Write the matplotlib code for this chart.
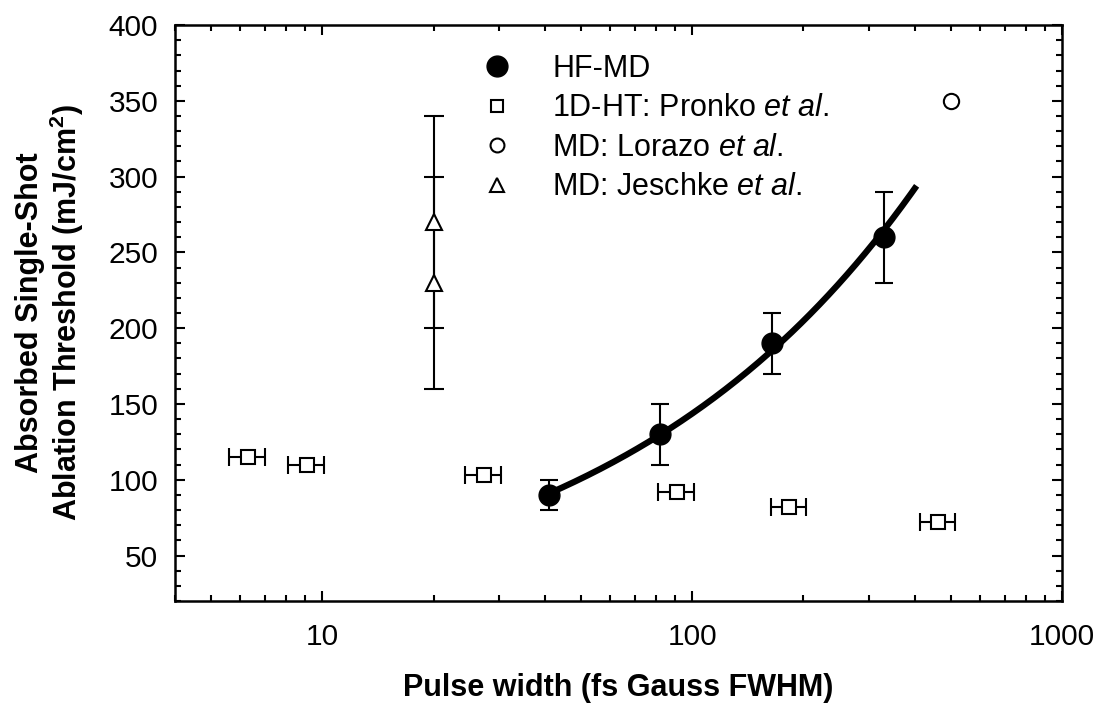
import numpy as np
import matplotlib
matplotlib.use("Agg")
import matplotlib.pyplot as plt
from matplotlib.lines import Line2D
from matplotlib.ticker import MultipleLocator, LogLocator, NullFormatter, FixedLocator, FixedFormatter

plt.rcParams["font.family"] = ["Liberation Sans", "DejaVu Sans"]
plt.rcParams["mathtext.fontset"] = "custom"
plt.rcParams["mathtext.rm"] = "Liberation Sans"
plt.rcParams["mathtext.it"] = "Liberation Sans:italic"
plt.rcParams["mathtext.bf"] = "Liberation Sans:bold"

# HF-MD results
hf_x = [41, 82, 164, 330]
hf_y = [90, 130, 190, 260]
hf_err = [10, 20, 20, 30]

# 1D-HT: Pronko et al.
pr_x = [6.3, 9.1, 27.4, 91, 183, 463]
pr_y = [115, 110, 103, 92, 82, 72]
pr_xerr = [0.7, 1.0, 3.0, 10, 20, 51]

# MD: Lorazo et al.
lo_x = [500]
lo_y = [350]

# MD: Jeschke et al.
je_x = [20, 20]
je_y = [270, 230]
je_err = [70, 70]

# fit end (fs)
fit_end = 400

fig = plt.figure(figsize=(11.02, 7.07), dpi=100)
ax = fig.add_axes([0.1588, 0.1499, 0.8049, 0.8147])

# power-law fit through the HF-MD points
b, a = np.polyfit(np.log(hf_x), np.log(hf_y), 1)
xf = np.logspace(np.log10(hf_x[0]), np.log10(fit_end), 200)
ax.plot(xf, np.exp(a) * xf ** b, color="black", lw=4.5, zorder=3)

ax.errorbar(hf_x, hf_y, yerr=hf_err, fmt="o", color="black", ms=15,
            elinewidth=1.5, capsize=6.5, capthick=1.5, zorder=4)
ax.errorbar(pr_x, pr_y, xerr=pr_xerr, fmt="s", mfc="white", mec="black",
            ecolor="black", ms=10, mew=1.5, elinewidth=1.5, capsize=6.5,
            capthick=1.5, zorder=4)
ax.plot(lo_x, lo_y, "o", mfc="white", mec="black", ms=11, mew=1.5, zorder=4)
ax.errorbar(je_x, je_y, yerr=je_err, fmt="^", mfc="white", mec="black",
            ecolor="black", ms=12, mew=1.5, elinewidth=1.5, capsize=7.5,
            capthick=1.5, zorder=4)

ax.set_xscale("log")
ax.set_xlim(4, 1000)
ax.set_ylim(20, 400)

ax.xaxis.set_major_locator(FixedLocator([10, 100, 1000]))
ax.xaxis.set_major_formatter(FixedFormatter(["10", "100", "1000"]))
ax.xaxis.set_minor_locator(LogLocator(base=10, subs=np.arange(2, 10)))
ax.xaxis.set_minor_formatter(NullFormatter())
ax.yaxis.set_major_locator(MultipleLocator(50))
ax.yaxis.set_minor_locator(MultipleLocator(10))
ax.set_yticks([50, 100, 150, 200, 250, 300, 350, 400])

ax.tick_params(which="both", direction="in", top=True, right=True,
               labelsize=21.5, width=1.5)
ax.tick_params(which="major", length=7)
ax.tick_params(which="minor", length=4)
ax.tick_params(axis="x", which="major", pad=16)
ax.tick_params(axis="y", which="major", pad=12)
for s in ax.spines.values():
    s.set_linewidth(1.8)

ax.set_xlabel("Pulse width (fs Gauss FWHM)", fontsize=22, fontweight="bold",
              labelpad=16)
ax.set_ylabel("Absorbed Single-Shot\nAblation Threshold (mJ/cm$\\mathbf{^2}$)",
              fontsize=22, fontweight="bold", labelpad=16, linespacing=1.1)

handles = [
    Line2D([], [], ls="none", marker="o", color="black", ms=15),
    Line2D([], [], ls="none", marker="s", mfc="white", mec="black", ms=9, mew=1.5),
    Line2D([], [], ls="none", marker="o", mfc="white", mec="black", ms=10, mew=1.5),
    Line2D([], [], ls="none", marker="^", mfc="white", mec="black", ms=10, mew=1.5),
]
labels = ["HF-MD", "1D-HT: Pronko $\\mathit{et\\ al}$.",
          "MD: Lorazo $\\mathit{et\\ al}$.", "MD: Jeschke $\\mathit{et\\ al}$."]
ax.legend(handles, labels, loc="upper left", bbox_to_anchor=(0.346, 0.95),
          frameon=False, fontsize=22, handlelength=1.0, handletextpad=1.3,
          labelspacing=0.31, borderpad=0, borderaxespad=0)

fig.savefig("out.png", dpi=100)
